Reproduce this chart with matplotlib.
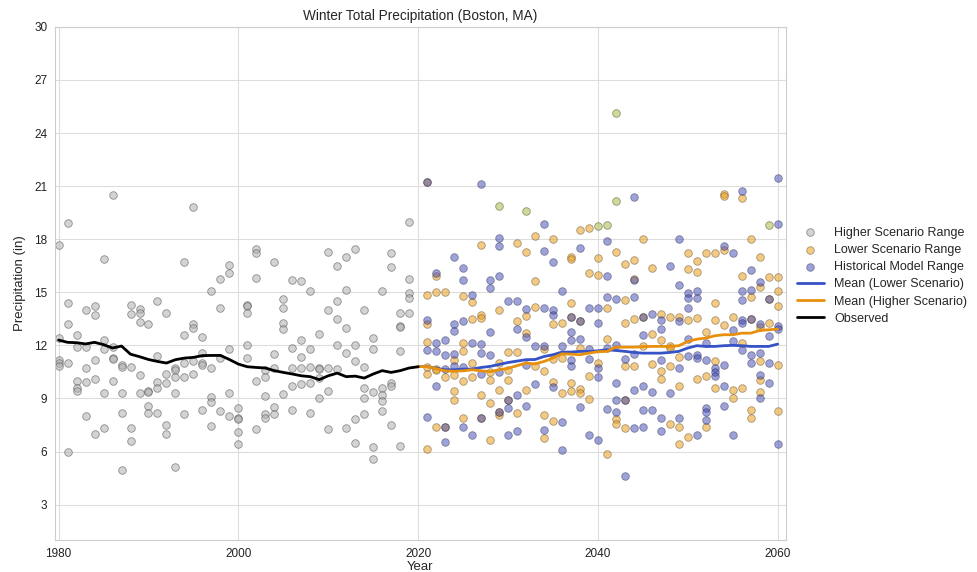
import numpy as np
import matplotlib
matplotlib.use("Agg")
import matplotlib.pyplot as plt
import seaborn as sns

sns.set_style("whitegrid")
plt.rcParams["font.family"] = ["Liberation Sans", "DejaVu Sans"]

# ---- data ----
hist_years = list(range(1980, 2020))
hist_vals = [
    [17.7, 12.4, 11.15, 11.0, 10.85], [18.9, 14.4, 13.2, 11.0, 6.0],
    [12.6, 11.9, 10.0, 9.6, 9.4], [14.0, 11.9, 10.7, 9.95, 8.0],
    [14.25, 13.7, 11.2, 10.1, 7.0], [16.9, 12.3, 11.8, 9.3, 7.35],
    [20.5, 11.9, 11.3, 11.25, 10.0], [10.9, 10.8, 9.3, 8.2, 4.95],
    [14.3, 13.8, 10.75, 7.35, 6.6], [14.05, 13.85, 13.3, 10.3, 9.3],
    [13.2, 9.4, 9.35, 8.6, 8.2], [14.5, 11.4, 9.95, 9.6, 8.2],
    [13.85, 10.4, 9.85, 7.5, 7.0], [10.7, 10.6, 10.2, 9.3, 5.1],
    [16.7, 12.6, 11.0, 10.2, 8.1], [19.8, 13.2, 13.0, 11.1, 10.4],
    [12.45, 11.55, 11.0, 10.9, 8.35], [15.05, 10.7, 9.1, 8.8, 7.45],
    [15.75, 14.1, 11.3, 8.3], [16.55, 16.1, 11.8, 9.3, 8.0],
    [8.45, 7.9, 7.85, 7.1, 6.4], [14.3, 14.2, 13.85, 12.0, 11.3],
    [17.45, 17.2, 15.8, 10.0, 7.25], [10.6, 10.2, 9.15, 8.1, 7.9],
    [16.7, 11.5, 10.7, 8.5, 8.1], [14.6, 14.1, 13.25, 12.9, 9.25],
    [15.7, 11.85, 10.7, 9.7, 8.35], [15.65, 12.3, 11.35, 10.7, 9.8],
    [15.1, 11.8, 10.8, 9.85, 8.2], [12.65, 10.7, 10.65, 10.15, 9.05],
    [17.3, 14.0, 10.7, 9.4, 7.25], [16.5, 14.5, 13.5, 12.0, 10.65],
    [17.0, 15.15, 13.0, 11.55, 7.35], [17.45, 12.0, 11.1, 7.85, 6.5],
    [14.0, 10.8, 9.6, 9.05, 8.1], [12.4, 11.8, 9.35, 6.25, 5.6],
    [15.1, 9.6, 9.2, 8.85, 8.3], [17.2, 16.45, 9.9, 9.7, 7.5],
    [13.85, 13.1, 13.05, 11.7, 6.3], [19.0, 15.75, 14.95, 14.7, 13.85],
]

fut_years = list(range(2021, 2061))
orange_vals = [
    [21.26, 14.86, 13.2, 12.17, 10.8, 10.37, 6.14], [15.93, 14.99, 10.68, 10.6, 7.36],
    [14.99, 10.2, 7.38], [11.15, 10.3, 9.43, 8.93],
    [14.8, 12.13, 11.66, 9.96, 7.87], [14.44, 13.5, 11.0, 10.2],
    [17.66, 13.73, 13.54, 9.19, 7.87], [10.47, 10.02, 8.74, 6.67],
    [14.01, 11.0, 9.49, 8.21, 8.08], [11.6, 10.62, 10.02, 8.89],
    [17.78, 13.35, 11.6, 8.17], [17.3, 13.67, 12.69, 9.45],
    [18.2, 15.61, 14.16, 10.81], [11.79, 10.53, 8.08, 6.76],
    [18.0, 13.2, 11.22, 9.92, 7.74], [13.29, 11.28, 9.3],
    [17.02, 16.87, 14.42, 13.63, 9.87, 9.4], [18.53, 13.35, 11.85, 9.53, 9.3],
    [18.63, 16.08, 10.28, 8.96], [16.93, 15.99, 11.03],
    [14.1, 12.35, 5.87], [17.27, 7.83, 7.55],
    [16.61, 14.54, 13.29, 10.81, 8.93, 7.33], [16.8, 15.74, 13.48, 10.85],
    [18.0, 13.6, 11.94], [16.36, 12.65, 10.96],
    [13.78, 12.32, 10.53, 10.09], [13.63, 11.94, 11.85, 10.81, 7.55],
    [13.63, 11.32, 9.68, 7.38, 6.44], [17.21, 16.31, 13.45, 6.82],
    [16.74, 16.12, 13.54, 10.09], [17.21, 12.73, 10.24, 7.38],
    [17.21, 14.39, 13.45, 11.09, 9.59], [20.56, 20.45, 17.4, 13.16],
    [13.63, 9.49, 9.02], [20.32, 15.9, 12.13, 9.59],
    [18.02, 14.76, 13.48, 8.32, 7.89], [17.02, 15.29, 13.03, 11.09, 10.06, 9.34],
    [15.86, 14.61, 13.29], [15.86, 15.05, 14.24, 10.91, 8.27],
]
blue_vals = [
    [21.26, 13.45, 11.75, 7.95], [16.08, 12.13, 11.66, 9.72],
    [12.32, 11.47, 10.66, 7.38, 6.52], [17.02, 13.22, 12.79, 11.5, 10.81],
    [16.35, 15.67, 13.39, 10.77, 7.36], [14.86, 12.13, 6.95],
    [21.11, 12.09, 11.56, 10.39, 7.87], [15.67, 15.22, 12.73, 11.47],
    [18.08, 17.63, 15.93, 10.47, 8.21], [14.48, 8.89, 8.45, 6.95],
    [14.48, 12.92, 9.21, 7.14], [14.05, 12.5, 10.9, 8.59],
    [11.94, 9.84], [18.85, 17.31, 14.1, 11.94, 7.23],
    [16.7, 14.01, 13.71, 9.62], [15.05, 11.98, 7.65, 6.06],
    [13.63, 12.73, 12.32, 11.15, 10.85], [17.5, 13.35, 12.35, 8.51],
    [14.1, 11.79, 11.22, 6.95], [14.1, 13.26, 10.72, 10.21, 6.67],
    [17.87, 15.9, 14.76, 11.85, 8.4], [14.61, 12.03, 9.9, 8.89, 8.21],
    [11.22, 8.93, 4.63], [20.41, 15.67, 14.76, 11.52, 9.49, 7.33],
    [13.6, 12.6, 9.72, 8.36, 7.36], [13.78, 9.34, 8.36],
    [13.45, 12.92, 11.15, 7.89, 7.14], [16.5, 9.3],
    [18.0, 15.42, 13.35, 10.72, 7.89], [14.95, 14.67, 14.1, 12.35, 11.38],
    [15.1, 14.67, 11.47, 11.28, 6.95], [12.13, 11.15, 8.46, 8.21, 7.79],
    [10.72, 10.47, 10.28], [17.63, 10.91, 9.72, 8.55],
    [17.21, 12.84, 12.22, 6.95], [20.73, 15.05, 14.58, 13.45, 13.26, 11.75],
    [16.27, 15.14, 13.48, 11.47, 11.03], [15.56, 13.22, 11.56, 10.34, 9.02],
    [14.61, 12.54, 11.03, 9.87], [21.45, 18.85, 13.11, 12.92, 6.44],
]
# few yellow-green looking points in the projection cloud
green_years = [2029, 2032, 2040, 2041, 2042, 2042, 2059]
green_vals = [19.9, 19.57, 18.72, 18.81, 25.12, 20.17, 18.79]

obs_years = list(range(1980, 2021))
obs_vals = [12.3, 12.17, 12.15, 12.08, 12.17, 12.04, 11.85, 11.96, 11.5, 11.36,
            11.2, 11.09, 11.0, 11.19, 11.28, 11.32, 11.42, 11.43, 11.43, 11.2,
            10.94, 10.79, 10.75, 10.72, 10.57, 10.47, 10.38, 10.28, 10.23, 10.06,
            10.28, 10.43, 10.23, 10.26, 10.15, 10.38, 10.57, 10.47, 10.57, 10.72,
            10.79]

mean_years = list(range(2020, 2061))
mean_lower = [10.8, 10.8, 10.7, 10.62, 10.62, 10.66, 10.66, 10.75, 10.81, 10.92,
              11.03, 11.11, 11.19, 11.2, 11.37, 11.47, 11.62, 11.62, 11.66, 11.66,
              11.69, 11.75, 11.71, 11.66, 11.6, 11.56, 11.56, 11.56, 11.6, 11.66,
              11.85, 11.98, 11.94, 11.94, 11.98, 12.0, 11.98, 11.94, 11.94, 11.94,
              12.07]
mean_higher = [10.8, 10.8, 10.68, 10.56, 10.53, 10.56, 10.62, 10.56, 10.51, 10.62,
               10.7, 10.85, 11.0, 10.95, 11.09, 11.28, 11.52, 11.5, 11.47, 11.56,
               11.64, 11.66, 11.9, 11.9, 11.9, 11.92, 11.94, 11.94, 11.94, 11.98,
               12.22, 12.35, 12.41, 12.54, 12.6, 12.6, 12.69, 12.69, 12.84, 12.88,
               12.92]


def flatten(years, vals):
    xs, ys = [], []
    for yr, v in zip(years, vals):
        xs += [yr] * len(v)
        ys += v
    return xs, ys


fig = plt.figure(figsize=(9.77, 5.72), dpi=100)
ax = fig.add_axes([0.0563, 0.056, 0.748, 0.897])

hx, hy = flatten(hist_years, hist_vals)
ox, oy = flatten(fut_years, orange_vals)
bx, by = flatten(fut_years, blue_vals)

ax.scatter(hx, hy, s=30, color="#b0b0b0", edgecolor="#444444", linewidth=0.6,
           alpha=0.55, label="Higher Scenario Range", zorder=2)
ax.scatter(ox, oy, s=30, color="#e8a020", edgecolor="#6a5030", linewidth=0.6,
           alpha=0.55, label="Lower Scenario Range", zorder=2)
ax.scatter(green_years, green_vals, s=30, color="#b0c058", edgecolor="#5a5a30",
           linewidth=0.6, alpha=0.6, zorder=2)
ax.scatter(bx, by, s=30, color="#3c46b4", edgecolor="#2a2a50", linewidth=0.6,
           alpha=0.5, label="Historical Model Range", zorder=2)

ax.plot(mean_years, mean_lower, color="#3552c6", lw=2, label="Mean (Lower Scenario)", zorder=3)
ax.plot(mean_years, mean_higher, color="#e8900c", lw=2, label="Mean (Higher Scenario)", zorder=3)
ax.plot(obs_years, obs_vals, color="black", lw=2, label="Observed", zorder=3)

ax.set_xlim(1979.6, 2060.9)
ax.set_ylim(1, 30)
ax.set_xticks([1980, 2000, 2020, 2040, 2060])
ax.set_yticks(np.arange(3, 31, 3))
ax.tick_params(labelsize=8.5, colors="#222222", pad=2)
ax.set_xlabel("Year", fontsize=9.5, labelpad=1)
ax.set_ylabel("Precipitation (in)", fontsize=9.5, labelpad=6)
ax.set_title("Winter Total Precipitation (Boston, MA)", fontsize=9.8, pad=5)
for sp in ax.spines.values():
    sp.set_color("#cccccc")
ax.grid(color="#dddddd", lw=0.8)

ax.legend(loc="center left", bbox_to_anchor=(1.003, 0.515), frameon=False,
          fontsize=9, labelspacing=0.42, handlelength=2.2, borderaxespad=0.3)

fig.savefig("out.png", dpi=100)
